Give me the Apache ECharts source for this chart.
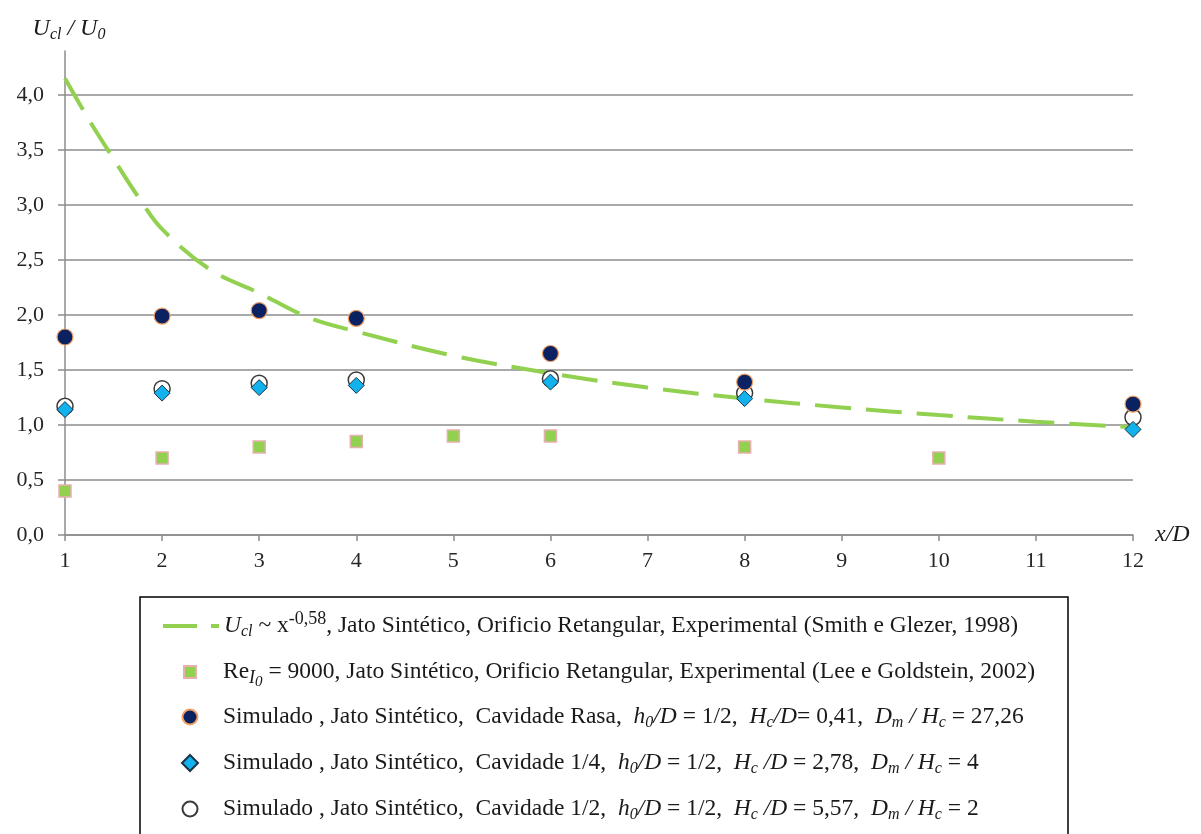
<!DOCTYPE html>
<html>
<head>
<meta charset="utf-8">
<script src="https://cdn.jsdelivr.net/npm/echarts@6/dist/echarts.min.js"></script>
<style>
  html, body { margin: 0; padding: 0; background: #ffffff; }
  #chart { width: 1201px; height: 834px; }
</style>
</head>
<body>
<div id="chart"></div>
<script>
// Centre-line velocity decay of the synthetic jet, U_cl/U_0 versus x/D

// Power-law fit U_cl ~ x^-0,58 (Smith e Glezer, 1998)
const fitX = [1, 1.25, 1.5, 1.75, 2, 2.5, 3, 3.5, 4, 5, 6, 7, 8, 9, 10, 11, 12];
const fitY = [4.15, 3.77, 3.42, 3.08, 2.78, 2.41, 2.20, 1.98, 1.85, 1.63, 1.47, 1.34, 1.24, 1.16, 1.09, 1.03, 0.98];

// Experimental points (Lee e Goldstein, 2002)
const leeX = [1, 2, 3, 4, 5, 6, 8, 10];
const leeY = [0.40, 0.70, 0.80, 0.85, 0.90, 0.90, 0.80, 0.70];

// Simulated cases share the same stations
const simX = [1, 2, 3, 4, 6, 8, 12];
const rasaY = [1.80, 1.99, 2.04, 1.97, 1.65, 1.39, 1.19];      // Cavidade Rasa
const quarterY = [1.14, 1.29, 1.34, 1.36, 1.39, 1.24, 0.96];   // Cavidade 1/4
const halfY = [1.17, 1.33, 1.38, 1.41, 1.42, 1.29, 1.07];      // Cavidade 1/2

// Axis ticks
const xTicks = [1, 2, 3, 4, 5, 6, 7, 8, 9, 10, 11, 12];
const yTicks = [0, 0.5, 1.0, 1.5, 2.0, 2.5, 3.0, 3.5, 4.0];

const SERIF = '"Liberation Serif", "DejaVu Serif", serif';
const GRID_GRAY = '#8c8c8c';
const TEXT = '#1a1a1a';

const pairs = (xs, ys) => xs.map((x, i) => [x, ys[i]]);

// Series names and their rich-text legend labels
const NAME_FIT = 'Smith e Glezer, 1998';
const NAME_LEE = 'Lee e Goldstein, 2002';
const NAME_RASA = 'Cavidade Rasa';
const NAME_QUARTER = 'Cavidade 1/4';
const NAME_HALF = 'Cavidade 1/2';

const legendLabels = {};
legendLabels[NAME_FIT] =
  '{i|U}{sub|cl}{t| ~ x}{sup|-0,58}{t|, Jato Sintético, Orificio Retangular, Experimental (Smith e Glezer, 1998)}';
legendLabels[NAME_LEE] =
  '{t|Re}{subi|I}{subsub|0}{t| = 9000, Jato Sintético, Orificio Retangular, Experimental (Lee e Goldstein, 2002)}';
legendLabels[NAME_RASA] =
  '{t|Simulado , Jato Sintético,  Cavidade Rasa,  }{i|h}{sub|0}{i|/D}{t| = 1/2,  }{i|H}{sub|c}{i|/D}{t|= 0,41,  }{i|D}{sub|m}{i| / H}{sub|c}{t| = 27,26}';
legendLabels[NAME_QUARTER] =
  '{t|Simulado , Jato Sintético,  Cavidade 1/4,  }{i|h}{sub|0}{i|/D}{t| = 1/2,  }{i|H}{sub|c}{i| /D}{t| = 2,78,  }{i|D}{sub|m}{i| / H}{sub|c}{t| = 4}';
legendLabels[NAME_HALF] =
  '{t|Simulado , Jato Sintético,  Cavidade 1/2,  }{i|h}{sub|0}{i|/D}{t| = 1/2,  }{i|H}{sub|c}{i| /D}{t| = 5,57,  }{i|D}{sub|m}{i| / H}{sub|c}{t| = 2}';

const LEG_FS = 23.5;
const legendRich = {
  t: { fontFamily: SERIF, fontSize: LEG_FS, color: TEXT },
  i: { fontFamily: SERIF, fontSize: LEG_FS, fontStyle: 'italic', color: TEXT },
  sub: { fontFamily: SERIF, fontSize: 16, fontStyle: 'italic', color: TEXT, padding: [12, 0, 0, 0] },
  subi: { fontFamily: SERIF, fontSize: 18, fontStyle: 'italic', color: TEXT, padding: [12, 0, 0, 0] },
  subsub: { fontFamily: SERIF, fontSize: 15, fontStyle: 'italic', color: TEXT, padding: [20, 0, 0, 0] },
  sup: { fontFamily: SERIF, fontSize: 18, color: TEXT, padding: [0, 0, 14, 0] }
};

// Legend icons drawn in a 56x16 box so each marker keeps its proportions
const ICON_SQUARE = 'path://M0,0M56,16M22,2L34,2L34,14L22,14Z';
const ICON_DIAMOND = 'path://M0,0M56,16M28,0L36,8L28,16L20,8Z';
const ICON_CIRCLE = 'path://M0,0M56,16M35.5,8A7.5,7.5,0,1,1,20.5,8A7.5,7.5,0,1,1,35.5,8Z';

// One legend block per row, each placed at its own row
const legendRows = [
  {
    top: 610,
    item: {
      name: NAME_FIT,
      itemStyle: { opacity: 0 },
      lineStyle: { color: '#92d050', width: 4, type: [34, 14] }
    }
  },
  { top: 660, item: { name: NAME_LEE, icon: ICON_SQUARE, itemStyle: { opacity: 1 } } },
  { top: 705, item: { name: NAME_RASA, icon: ICON_CIRCLE, itemStyle: { opacity: 1 } } },
  { top: 751, item: { name: NAME_QUARTER, icon: ICON_DIAMOND, itemStyle: { opacity: 1 } } },
  { top: 797, item: { name: NAME_HALF, icon: ICON_CIRCLE, itemStyle: { opacity: 1 } } }
];

const legends = legendRows.map(row => ({
  orient: 'vertical',
  left: 161,
  top: row.top,
  padding: 0,
  itemWidth: 56,
  itemHeight: 16,
  selectedMode: false,
  data: [row.item],
  formatter: name => legendLabels[name],
  textStyle: { fontFamily: SERIF, fontSize: LEG_FS, color: TEXT, rich: legendRich }
}));

const chart = echarts.init(document.getElementById('chart'), null, { renderer: 'canvas' });

chart.setOption({
  animation: false,
  backgroundColor: '#ffffff',
  grid: { left: 65, right: 68, top: 51, bottom: 299, containLabel: false },
  xAxis: {
    type: 'value',
    min: 1,
    max: 12,
    interval: 1,
    name: 'x/D',
    nameLocation: 'end',
    nameGap: 22,
    nameTextStyle: {
      fontFamily: SERIF, fontSize: 24, fontStyle: 'italic', color: TEXT,
      padding: [0, 0, 8, 0]
    },
    axisLine: { show: true, onZero: false, lineStyle: { color: GRID_GRAY, width: 1.5 } },
    axisTick: { show: true, inside: false, length: 6, lineStyle: { color: GRID_GRAY, width: 1.5 }, customValues: xTicks },
    axisLabel: {
      customValues: xTicks,
      fontFamily: SERIF, fontSize: 22, color: '#262626', margin: 15,
      formatter: v => String(v)
    },
    splitLine: { show: false }
  },
  yAxis: {
    type: 'value',
    min: 0,
    max: 4.4,
    interval: 0.5,
    name: '{i|U}{sub|cl}{i| / U}{sub|0}',
    nameLocation: 'end',
    nameGap: 8,
    nameTextStyle: {
      align: 'center',
      padding: [0, 0, 0, 8],
      rich: {
        i: { fontFamily: SERIF, fontSize: 24, fontStyle: 'italic', color: TEXT, lineHeight: 28 },
        sub: { fontFamily: SERIF, fontSize: 16, fontStyle: 'italic', color: TEXT, lineHeight: 28, padding: [12, 0, 0, 0] }
      }
    },
    axisLine: { show: true, onZero: false, lineStyle: { color: GRID_GRAY, width: 1.5 } },
    axisTick: { show: true, inside: false, length: 7, lineStyle: { color: GRID_GRAY, width: 1.5 }, customValues: yTicks },
    axisLabel: {
      customValues: yTicks,
      fontFamily: SERIF, fontSize: 22, color: '#262626', margin: 21,
      formatter: v => v.toFixed(1).replace('.', ',')
    },
    splitLine: { show: true, lineStyle: { color: GRID_GRAY, width: 1.5 } }
  },
  legend: legends,
  graphic: [{
    type: 'rect',
    silent: true,
    shape: { x: 140, y: 597, width: 928, height: 260 },
    style: { fill: 'none', stroke: '#000000', lineWidth: 1.5 },
    z: -1
  }],
  series: [
    {
      name: NAME_FIT,
      type: 'line',
      smooth: 0.35,
      symbol: 'none',
      data: pairs(fitX, fitY),
      lineStyle: { color: '#92d050', width: 4, type: [36, 15] },
      itemStyle: { color: '#92d050' },
      z: 2
    },
    {
      name: NAME_LEE,
      type: 'scatter',
      symbol: 'rect',
      symbolSize: 12,
      data: pairs(leeX, leeY),
      itemStyle: { color: '#92d050', borderColor: '#e6b0ae', borderWidth: 1.5, opacity: 1 },
      z: 3
    },
    {
      name: NAME_HALF,
      type: 'scatter',
      symbol: 'circle',
      symbolSize: 16,
      data: pairs(simX, halfY),
      itemStyle: { color: '#ffffff', borderColor: '#3a3a3a', borderWidth: 1.5, opacity: 1 },
      z: 4
    },
    {
      name: NAME_QUARTER,
      type: 'scatter',
      symbol: 'diamond',
      symbolSize: 16,
      data: pairs(simX, quarterY),
      itemStyle: { color: '#12b2ef', borderColor: '#1d3344', borderWidth: 1, opacity: 1 },
      z: 5
    },
    {
      name: NAME_RASA,
      type: 'scatter',
      symbol: 'circle',
      symbolSize: 16,
      data: pairs(simX, rasaY),
      itemStyle: { color: '#0a2261', borderColor: '#f3a065', borderWidth: 1.2, opacity: 1 },
      z: 6
    }
  ]
});
</script>
</body>
</html>
